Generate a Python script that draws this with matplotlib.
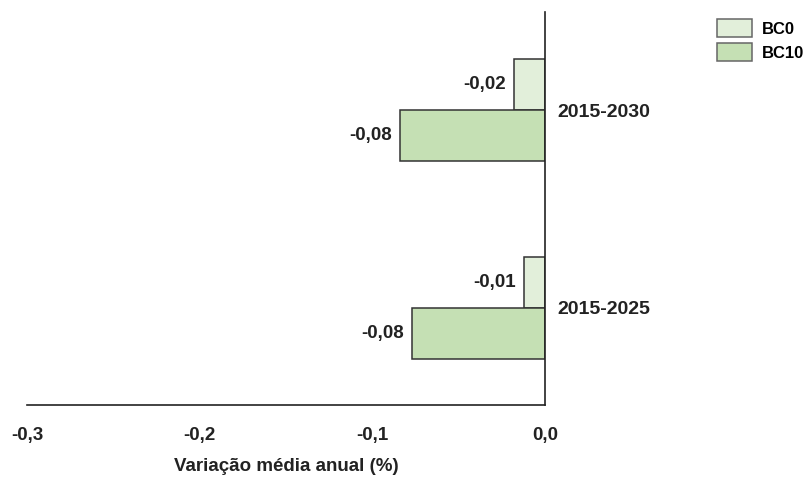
import matplotlib.pyplot as plt
import numpy as np

plt.rcParams['font.family'] = ['Liberation Sans', 'DejaVu Sans']
plt.rcParams['font.weight'] = 'bold'

periods = ["2015-2025", "2015-2030"]
series_names = ["BC0", "BC10"]
bc0 = [-0.012, -0.018]
bc10 = [-0.077, -0.084]
colors = ["#e2efda", "#c5e0b4"]

fig = plt.figure(figsize=(8.08, 4.84), dpi=100)
ax = fig.add_axes([27 / 808, 1 - 405 / 484, 518 / 808, 393 / 484])

y = np.arange(len(periods))
h = 0.26
b0 = ax.barh(y + h / 2, bc0, height=h, color=colors[0], edgecolor="#333333",
             linewidth=1.1, label=series_names[0])
b1 = ax.barh(y - h / 2, bc10, height=h, color=colors[1], edgecolor="#333333",
             linewidth=1.1, label=series_names[1])

for bars, vals in [(b0, bc0), (b1, bc10)]:
    for bar, v in zip(bars, vals):
        yc = bar.get_y() + bar.get_height() / 2
        ax.annotate(f"{v:.2f}".replace(".", ","), xy=(v, yc), xytext=(-6, 0),
                    textcoords="offset points", ha="right", va="center",
                    fontsize=13.5, fontweight="bold", color="#222222")

ax.set_xlim(-0.3, 0.0)
ax.set_ylim(-0.49, 1.495)
ax.set_xticks([-0.3, -0.2, -0.1, 0.0])
ax.set_xticklabels(["-0,3", "-0,2", "-0,1", "0,0"])
ax.yaxis.tick_right()
ax.set_yticks(y)
ax.set_yticks(y)
ax.set_yticklabels(periods)
ax.tick_params(axis="x", length=0, pad=16, labelsize=13.5, labelcolor="#222222")
ax.tick_params(axis="y", length=0, pad=9, labelsize=14, labelcolor="#222222")

ax.spines["top"].set_visible(False)
ax.spines["left"].set_visible(False)
ax.spines["right"].set_color("#222222")
ax.spines["bottom"].set_color("#222222")
ax.spines["right"].set_linewidth(1.2)
ax.spines["bottom"].set_linewidth(1.2)

ax.set_xlabel("Variação média anual (%)", fontsize=13.5, fontweight="bold",
              labelpad=10, color="#222222")

leg = fig.legend(handles=[b0, b1], loc="upper left",
                 bbox_to_anchor=(717 / 808, 1 - 19 / 484), frameon=False,
                 borderpad=0, borderaxespad=0, handlelength=2.1,
                 handleheight=1.3, labelspacing=0.36, handletextpad=0.6,
                 prop={"size": 12, "weight": "bold"})
for patch in leg.get_patches():
    patch.set_edgecolor("#666666")

fig.savefig("out.png", dpi=100)
